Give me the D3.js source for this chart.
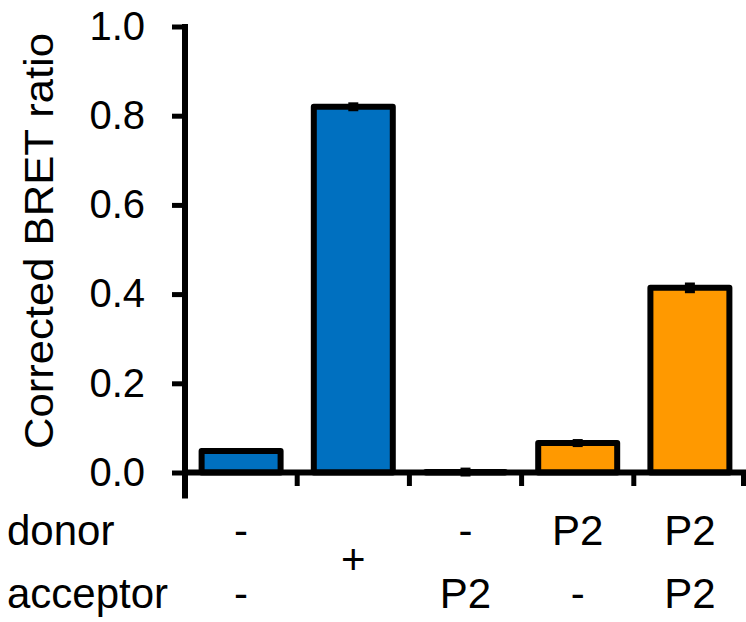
<!DOCTYPE html>
<html>
<head>
<meta charset="utf-8">
<script src="https://cdn.jsdelivr.net/npm/d3@7/dist/d3.min.js"></script>
<style>
  html, body { margin: 0; padding: 0; background: #fff; }
  svg { display: block; font-family: "Liberation Sans", Arial, Helvetica, sans-serif; }
</style>
</head>
<body>
<svg id="chart" width="746" height="622"></svg>
<script>
// ---- data ----
const categories = ["c1", "c2", "c3", "c4", "c5"];
const values = [0.048, 0.820, 0.001, 0.066, 0.414];
const errors = [0.006, 0.010, 0.010, 0.009, 0.012];
const barColors = ["#0070C0", "#0070C0", "#0070C0", "#FF9900", "#FF9900"];
const donorLabels = ["-", "", "-", "P2", "P2"];
const acceptorLabels = ["-", "", "P2", "-", "P2"];
const mergedLabels = ["", "+", "", "", ""];
const yTicks = [0, 0.2, 0.4, 0.6, 0.8, 1.0];
const yTitle = "Corrected BRET ratio";
const rowTitles = ["donor", "acceptor"];

// ---- layout ----
const svg = d3.select("#chart");
const mLeft = 185, mRight = 746, mTop = 26.5, mBottom = 472.5;

const x = d3.scaleBand().domain(categories).range([mLeft, mRight]).paddingInner(0.296).paddingOuter(0.148);
const y = d3.scaleLinear().domain([0, 1]).range([mBottom, mTop]);

// bars
svg.append("g").selectAll("rect").data(values).join("rect")
  .attr("x", (d, i) => x(categories[i]))
  .attr("y", d => y(d))
  .attr("width", x.bandwidth())
  .attr("height", d => y(0) - y(d))
  .attr("fill", (d, i) => barColors[i])
  .attr("stroke", "#000")
  .attr("stroke-width", 6)
  .attr("stroke-linejoin", "round");

// error bars
svg.append("g").selectAll("line").data(values).join("line")
  .attr("x1", (d, i) => x(categories[i]) + x.bandwidth() / 2)
  .attr("x2", (d, i) => x(categories[i]) + x.bandwidth() / 2)
  .attr("y1", (d, i) => y(d - errors[i]))
  .attr("y2", (d, i) => y(d + errors[i]))
  .attr("stroke", "#000")
  .attr("stroke-width", 10);

// y axis
const yAxis = d3.axisLeft(y).tickValues(yTicks).tickFormat(d3.format(".1f")).tickSize(13).tickSizeOuter(0).tickPadding(27);
const gy = svg.append("g").attr("transform", `translate(${mLeft},0)`).call(yAxis);
gy.select(".domain").remove();
gy.selectAll(".tick line").attr("stroke", "#000").attr("stroke-width", 5);
gy.selectAll(".tick text").attr("font-size", 40).attr("fill", "#000")
  .attr("font-family", "'Liberation Sans', Arial, sans-serif");
svg.append("line")
  .attr("x1", mLeft).attr("x2", mLeft)
  .attr("y1", y(1) - 2.5).attr("y2", y(0) + 26)
  .attr("stroke", "#000").attr("stroke-width", 6);

// x axis line
svg.append("line")
  .attr("x1", mLeft).attr("x2", mRight)
  .attr("y1", y(0)).attr("y2", y(0))
  .attr("stroke", "#000").attr("stroke-width", 6);

// x boundary ticks
const bounds = d3.range(1, categories.length + 1).map(i => mLeft + x.step() * i);
svg.append("g").selectAll("line").data(bounds).join("line")
  .attr("x1", d => Math.min(d, mRight - 2.5)).attr("x2", d => Math.min(d, mRight - 2.5))
  .attr("y1", y(0)).attr("y2", y(0) + 13.5)
  .attr("stroke", "#000").attr("stroke-width", 5);

// y title
svg.append("text")
  .attr("transform", `translate(53,241) rotate(-90)`)
  .attr("text-anchor", "middle")
  .attr("font-size", 40)
  .attr("textLength", 416)
  .attr("lengthAdjust", "spacingAndGlyphs")
  .text(yTitle);

// row titles
const rowY = [545, 608];
svg.append("g").selectAll("text").data(rowTitles).join("text")
  .attr("x", 7).attr("y", (d, i) => rowY[i])
  .attr("font-size", 42)
  .text(d => d);

const cx = (i) => x(categories[i]) + x.bandwidth() / 2;
svg.append("g").selectAll("text").data(donorLabels).join("text")
  .attr("x", (d, i) => cx(i)).attr("y", rowY[0])
  .attr("text-anchor", "middle").attr("font-size", 42).text(d => d);
svg.append("g").selectAll("text").data(acceptorLabels).join("text")
  .attr("x", (d, i) => cx(i)).attr("y", rowY[1])
  .attr("text-anchor", "middle").attr("font-size", 42).text(d => d);
svg.append("g").selectAll("text").data(mergedLabels).join("text")
  .attr("x", (d, i) => cx(i)).attr("y", 574)
  .attr("text-anchor", "middle").attr("font-size", 42).text(d => d);
</script>
</body>
</html>
